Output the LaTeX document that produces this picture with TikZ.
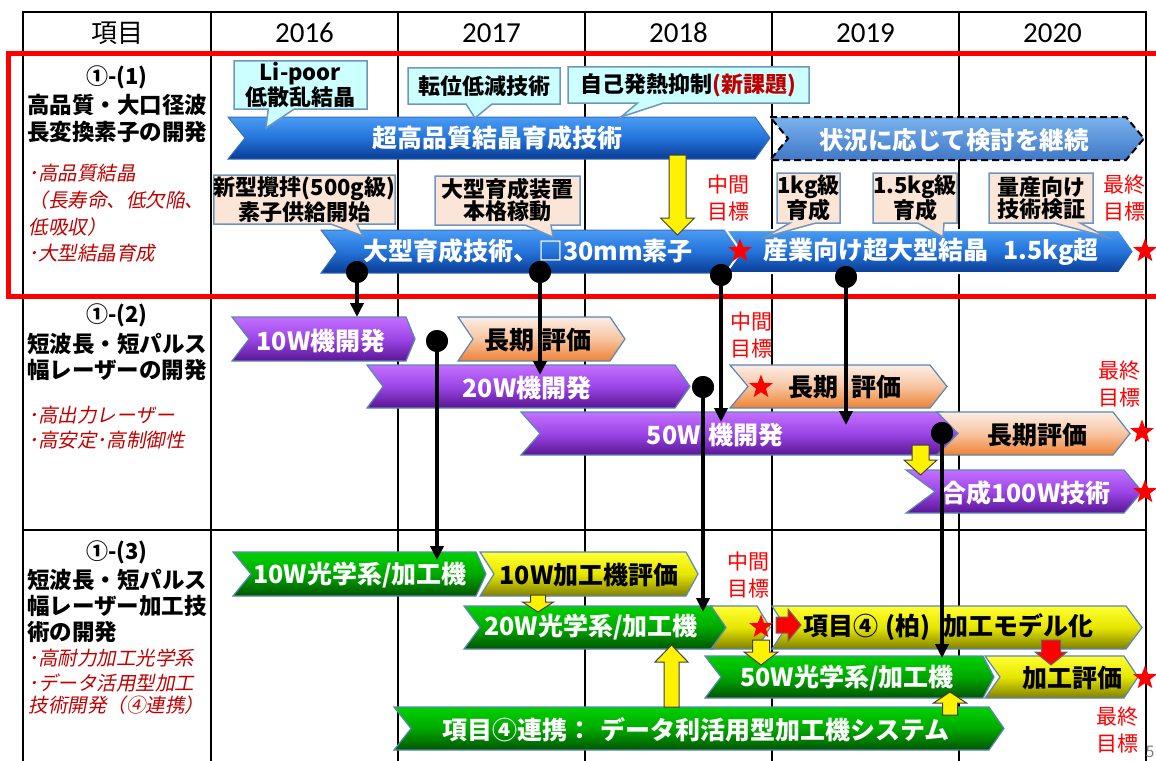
\documentclass[tikz,border=0pt]{standalone}
\usepackage{fontspec}
\setmainfont{Noto Sans CJK JP}
\newfontfamily\yearfont{Carlito}
\usetikzlibrary{arrows.meta,shapes.geometric,shapes.callouts}

\definecolor{blueT}{HTML}{4A9CF4}
\definecolor{blueM}{HTML}{2473DA}
\definecolor{blueB}{HTML}{0A3C94}
\definecolor{blueE}{HTML}{3A6FB5}
\definecolor{dashT}{HTML}{7AB2EE}
\definecolor{dashB}{HTML}{3F78C6}
\definecolor{purpT}{HTML}{C470FF}
\definecolor{purpM}{HTML}{9B45E6}
\definecolor{purpB}{HTML}{5A1694}
\definecolor{oranT}{HTML}{FCEEE6}
\definecolor{oranM}{HTML}{F7C4A0}
\definecolor{oranB}{HTML}{EE8234}
\definecolor{greenT}{HTML}{00D200}
\definecolor{greenM}{HTML}{00A800}
\definecolor{greenB}{HTML}{005500}
\definecolor{yelT}{HTML}{FFFF33}
\definecolor{yelM}{HTML}{E6E600}
\definecolor{yelB}{HTML}{808000}
\definecolor{barEdge}{HTML}{5B86B5}
\definecolor{cyanFill}{HTML}{CCFFFF}
\definecolor{peachFill}{HTML}{FBE5D6}
\definecolor{callEdge}{HTML}{7095BD}
\definecolor{noteRed}{HTML}{C00000}

\newcommand{\fsz}[2]{\fontsize{#1}{#2}\selectfont}
% bar: style, left, notch, right corner, tip, top, bottom
\newcommand{\chev}[7]{%
  \path[#1] (#2,#6) -- (#4,#6) -- (#5,{(#6+#7)/2}) -- (#4,#7) -- (#2,#7)
    -- (#3,{(#6+#7)/2}) -- cycle;}
% block arrow: style, x, tail, neck, tip, shaft half, head half
\newcommand{\blkarrow}[7]{%
  \path[#1] ({#2-#6},#3) -- ({#2+#6},#3) -- ({#2+#6},#4) -- ({#2+#7},#4)
    -- (#2,#5) -- ({#2-#7},#4) -- ({#2-#6},#4) -- cycle;}

\begin{document}
\begin{tikzpicture}[x=1pt, y=-1pt,
    bluebar/.style={top color=blueT, bottom color=blueB, middle color=blueM, draw=blueE, line width=1pt},
    dashbar/.style={top color=dashT, bottom color=dashB, draw=black, line width=2pt, dash pattern=on 7pt off 4pt},
    purpbar/.style={top color=purpT, bottom color=purpB, middle color=purpM, draw=barEdge, line width=1.2pt},
    oranbar/.style={top color=oranT, bottom color=oranB, middle color=oranM, draw=barEdge, line width=1.2pt},
    greenbar/.style={top color=greenT, bottom color=greenB, middle color=greenM, draw=barEdge, line width=1.2pt},
    yelbar/.style={top color=yelT, bottom color=yelB, middle color=yelM, draw=barEdge, line width=1.2pt},
    yelarrow/.style={fill=yellow, draw=black!75, line width=1pt},
    redarrow/.style={fill=red, draw=black!60, line width=1pt},
    barw/.style={font=\fsz{25}{30}\bfseries, text=white, inner sep=0pt},
    bark/.style={barw, text=black},
    secnum/.style={font=\fsz{22}{26}\bfseries, inner sep=0pt},
    secttl/.style={anchor=west, font=\fsz{22.5}{26}\bfseries, inner sep=0pt},
    secnote/.style={anchor=west, xslant=0.2, font=\fsz{19.5}{24}, text=noteRed, inner sep=0pt},
    goal/.style={font=\fsz{21}{27}, text=red, align=center, inner sep=0pt},
    goalstar/.style={star, star points=5, star point ratio=2.4, fill=red, minimum size=25pt, inner sep=0pt},
    pindot/.style={circle, fill=black, minimum size=22pt, inner sep=0pt},
    conn/.style={line width=3.5pt, -{Triangle[length=14pt,width=13pt]}},
    callcyan/.style={rectangle callout, fill=cyanFill, draw=callEdge, line width=1.5pt,
      callout pointer width=26pt, font=\fsz{22}{21}\bfseries, align=center, inner sep=0pt},
    callpeach/.style={callcyan, fill=peachFill, font=\fsz{22}{22}\bfseries},
    tablerule/.style={line width=1.5pt}]
  \useasboundingbox (0,0) rectangle (1156,760);
  \clip (0,0) rectangle (1156,760);

  % Table
  \draw[tablerule] (23,12) rectangle (1146,800);
  \foreach \cx in {211,398,585,772,959}
    \draw[tablerule] (\cx,12) -- (\cx,800);
  \foreach \cy in {54,297,530}
    \draw[tablerule] (23,\cy) -- (1146,\cy);
  \draw[red, line width=5pt] (8.5,54) rectangle (1180,296);

  % Header
  \node[font=\fsz{26}{30}] (hItem) at (117,33) {項目};
  \node[font=\yearfont\fsz{29}{30}] (h2016) at (304.5,33) {2016};
  \node[font=\yearfont\fsz{29}{30}] (h2017) at (491.5,33) {2017};
  \node[font=\yearfont\fsz{29}{30}] (h2018) at (678.5,33) {2018};
  \node[font=\yearfont\fsz{29}{30}] (h2019) at (865.5,33) {2019};
  \node[font=\yearfont\fsz{29}{30}] (h2020) at (1052.5,33) {2020};

  % Item 1-(1)
  \node[secnum] (n1) at (117,77) {①-(1)};
  \node[secttl] (t1a) at (27,105) {高品質・大口径波};
  \node[secttl] (t1b) at (27,132) {長変換素子の開発};
  \node[secnote] (r1a) at (30,173) {･高品質結晶};
  \node[secnote] (r1b) at (30,200) {（長寿命、低欠陥、};
  \node[secnote] (r1c) at (30,227) {低吸収）};
  \node[secnote] (r1d) at (30,253) {･大型結晶育成};

  % Item 1-(2)
  \node[secnum] (n2) at (117,315) {①-(2)};
  \node[secttl] (t2a) at (27,344) {短波長・短パルス};
  \node[secttl] (t2b) at (27,370) {幅レーザーの開発};
  \node[secnote] (r2a) at (30,415) {･高出力レーザー};
  \node[secnote] (r2b) at (30,440) {･高安定･高制御性};

  % Item 1-(3)
  \node[secnum] (n3) at (117,552) {①-(3)};
  \node[secttl] (t3a) at (27,580) {短波長・短パルス};
  \node[secttl] (t3b) at (27,606) {幅レーザー加工技};
  \node[secttl] (t3c) at (27,632) {術の開発};
  \node[secnote] (r3a) at (30,658) {･高耐力加工光学系};
  \node[secnote] (r3b) at (30,683) {･データ活用型加工};
  \node[secnote] (r3c) at (30,705) {技術開発（④連携）};

  % Crystal bars
  \chev{bluebar}{228}{245}{755}{770}{117}{159}
  \chev{dashbar}{770}{788}{1126}{1144}{117}{160}
  \chev{bluebar}{321}{337}{725}{741}{230}{273}
  \chev{bluebar, draw=white, line width=2pt}{726}{741}{1119}{1134}{230}{273}
  \node[barw] (bCrystal) at (497,138) {超高品質結晶育成技術};
  \node[barw, font=\fsz{24.5}{30}\bfseries] (bContinue) at (954,140) {状況に応じて検討を継続};
  \node[barw] (bLarge) at (528,251) {大型育成技術、□30mm素子};
  \node[barw] (bIndustry) at (931,252) {産業向け超大型結晶\hspace{0.6em}1.5kg超};

  % Callouts
  \node[callcyan, minimum width=133pt, minimum height=48pt, callout absolute pointer={(266,128)}]
    (cLipoor) at (300.5,85) {Li-poor\\低散乱結晶};
  \node[callcyan, minimum width=152pt, minimum height=36pt, callout absolute pointer={(475,118)}]
    (cDisloc) at (484,86) {転位低減技術};
  \node[callcyan, minimum width=241pt, minimum height=36pt, callout absolute pointer={(621,117)}]
    (cHeat) at (688.5,85) {自己発熱抑制\textcolor{noteRed}{(新課題)}};
  \node[callpeach, minimum width=181pt, minimum height=49pt, callout absolute pointer={(363,236)}]
    (cStir) at (304.5,199.5) {新型攪拌(500g級)\\素子供給開始};
  \node[callpeach, minimum width=145pt, minimum height=49pt, callout absolute pointer={(553,237)}]
    (cGrow) at (507.5,200.5) {大型育成装置\\本格稼動};
  \node[callpeach, minimum width=63pt, minimum height=50pt, callout absolute pointer={(765,237)}]
    (c1kg) at (808.5,198) {1kg級\\育成};
  \node[callpeach, minimum width=84pt, minimum height=50pt, callout absolute pointer={(943,237)}]
    (c15kg) at (915,198) {1.5kg級\\育成};
  \node[callpeach, minimum width=104pt, minimum height=50pt, callout absolute pointer={(1107,237)}]
    (cMass) at (1041,198) {量産向け\\技術検証};
  \blkarrow{yelarrow}{677.5}{155}{218}{235}{8.5}{17}

  % Laser bars
  \chev{purpbar}{232}{249}{406}{415}{317}{361}
  \chev{oranbar}{458}{473}{610}{625}{317}{361}
  \chev{purpbar}{367}{383}{675}{690}{365}{408}
  \chev{oranbar}{730}{748}{930}{947}{365}{408}
  \chev{purpbar}{521}{540}{943}{960}{412}{455}
  \chev{oranbar}{937}{958}{1113}{1130}{412}{455}
  \chev{purpbar}{906}{935}{1124}{1142}{470}{513}
  \node[barw] (b10w) at (321,341) {10W機開発};
  \node[bark] (bEval1) at (538,340) {長期\hspace{0.3em}評価};
  \node[barw] (b20w) at (527,388) {20W機開発};
  \node[bark] (bEval2) at (845,387) {長期\hspace{0.5em}評価};
  \node[barw] (b50w) at (715,435) {50W\hspace{0.3em}機開発};
  \node[bark] (bEval3) at (1037,435) {長期評価};
  \node[barw] (b100w) at (1026,493) {合成100W技術};
  \blkarrow{yelarrow}{920.5}{445}{460}{475}{8.5}{16.5}

  % Processing bars
  \chev{greenbar}{233}{251}{476}{486}{552}{596}
  \chev{yelbar}{480}{494}{686}{698}{552}{596}
  \chev{greenbar}{464}{480}{713}{726}{606}{649}
  \chev{yelbar}{711}{726}{757}{770}{606}{649}
  \chev{yelbar}{772}{786}{1126}{1142}{606}{649}
  \chev{greenbar}{705}{721}{983}{994}{656}{698}
  \chev{yelbar}{985}{1000}{1124}{1138}{656}{698}
  \chev{greenbar}{394}{411}{989}{1004}{707}{750}
  \node[barw] (o10w) at (360,575) {10W光学系/加工機};
  \node[bark] (e10w) at (589,575) {10W加工機評価};
  \node[barw] (o20w) at (591,627) {20W光学系/加工機};
  \node[bark] (mModel) at (948,627) {項目④\hspace{0.3em}(柏)\hspace{0.5em}加工モデル化};
  \node[barw] (o50w) at (847,678) {50W光学系/加工機};
  \node[bark] (eProc) at (1072,678) {加工評価};
  \node[barw] (oData) at (696,730) {項目④連携：\hspace{0.3em}データ利活用型加工機システム};
  \blkarrow{yelarrow}{538}{595}{602}{612}{7.5}{15.5}
  \blkarrow{yelarrow}{761}{640}{652}{665}{8.5}{17}
  \blkarrow{yelarrow}{671.5}{707}{662}{645}{7.5}{16.5}
  \blkarrow{yelarrow}{950}{715}{703}{692}{7.5}{16.5}
  \blkarrow{redarrow}{1051}{640}{652}{665}{9.5}{16}
  \path[redarrow] (776,617) -- (788,617) -- (788,609) -- (801,625) -- (788,641)
    -- (788,633) -- (776,633) -- cycle;

  % Goals
  \node[goalstar] (s1) at (740,251) {};
  \node[goalstar] (s2) at (1145,251) {};
  \node[goalstar] (s3) at (761,387) {};
  \node[goalstar] (s4) at (1142,432) {};
  \node[goalstar] (s5) at (1145,492) {};
  \node[goalstar] (s6) at (761,627) {};
  \node[goalstar] (s7) at (1145,678) {};
  \node[goal] (g1) at (728,198.5) {中間\\目標};
  \node[goal] (g2) at (1124,198.5) {最終\\目標};
  \node[goal] (g3) at (751,335.5) {中間\\目標};
  \node[goal] (g4) at (1119,384.5) {最終\\目標};
  \node[goal] (g5) at (748,575) {中間\\目標};
  \node[goal] (g6) at (1117,730.5) {最終\\目標};

  % Links
  \node[pindot] (d1) at (357,272) {};
  \node[pindot] (d2) at (540,272) {};
  \node[pindot] (d3) at (721,275) {};
  \node[pindot] (d4) at (846,277) {};
  \node[pindot] (d5) at (437,341) {};
  \node[pindot] (d6) at (703,387) {};
  \node[pindot] (d7) at (942,433) {};
  \coordinate (e1) at (357,317);
  \coordinate (e2) at (540,375);
  \coordinate (e3) at (721,422);
  \coordinate (e4) at (846,425);
  \coordinate (e5) at (437,560);
  \coordinate (e6) at (703,612);
  \coordinate (e7) at (942,658);
  \foreach \k in {1,...,7}
    \draw[conn] (d\k.center) -- (e\k);
  \foreach \k in {1,...,7}
    \node[pindot] at (d\k) {};

  \node[text=gray, font=\fsz{16}{16}] (pg) at (1150,752) {5};
\end{tikzpicture}
\end{document}
